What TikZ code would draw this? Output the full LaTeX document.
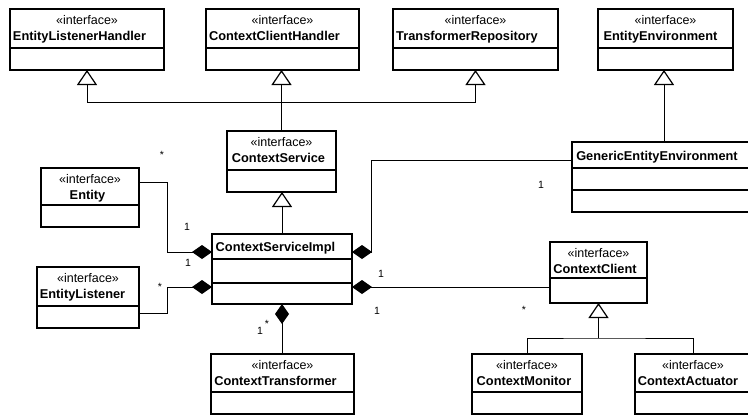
\documentclass[tikz,border=0pt]{standalone}
\usepackage{fontspec}
\setmainfont{Liberation Sans}
\usetikzlibrary{arrows.meta, calc}

\begin{document}
\begin{tikzpicture}[
    x = 1pt, y = -1pt,
    box/.style = {draw, line width=1.2pt, inner sep=0pt, outer sep=0pt,
        anchor=north west},
    sep/.style = {line width=1.2pt},
    stereo/.style = {anchor=base, inner sep=0pt,
        font=\fontsize{12.5}{14}\selectfont},
    cname/.style = {anchor=base, inner sep=0pt,
        font=\fontsize{12.8}{14}\selectfont\bfseries},
    mult/.style = {inner sep=0pt, font=\fontsize{10.5}{12}\selectfont},
    gen/.style = {line width=1pt,
        -{Triangle[open, width=20pt, length=15pt, line width=1.2pt]}},
    comp/.style = {line width=1pt, {Diamond[width=14pt, length=20pt]}-}
  ]
  \useasboundingbox (0,0) rectangle (748,415);
  \clip (0,0) rectangle (748,415);

  % interfaces: name/left/top/width/height/header/name centre/text
  \foreach \n/\l/\t/\w/\h/\hh/\cx/\txt in {
      elh/10/9/154/61/39/69.5/EntityListenerHandler,
      cch/206/9/153/61/39/68.5/ContextClientHandler,
      trp/393/9/165/61/39/74/TransformerRepository,
      een/598/9/135/61/39/62.5/EntityEnvironment,
      cs/227/131/109/61/39/51.5/ContextService,
      ent/41/168/98/59/37/46.5/Entity,
      el/37/267/102/61/39/45.5/EntityListener,
      ct/211/354/143/60/38/64.5/ContextTransformer,
      cc/550/242/97/61/36/45/ContextClient,
      cm/472/354/110/60/38/52/ContextMonitor,
      ca/635/354/116/60/38/53/ContextActuator}
  {
    \node[box, minimum width=\w, minimum height=\h] (\n) at (\l,\t) {};
    \draw[sep] ($(\n.north west)+(0,\hh)$) -- ($(\n.north east)+(0,\hh)$);
    \node[stereo] (\n-st) at ($(\n.north)+(0,15)$) {«interface»};
    \node[cname] (\n-nm) at ($(\n.north west)+(\cx,31)$) {\txt};
  }

  % classes
  \node[box, minimum width=140, minimum height=70] (csi) at (212,234) {};
  \draw[sep] ($(csi.north west)+(0,25)$) -- ($(csi.north east)+(0,25)$);
  \draw[sep] ($(csi.north west)+(0,49)$) -- ($(csi.north east)+(0,49)$);
  \node[cname] (csi-nm) at ($(csi.north west)+(63.5,17)$) {ContextServiceImpl};

  \node[box, minimum width=184, minimum height=70] (gee) at (572,142) {};
  \draw[sep] ($(gee.north west)+(0,26)$) -- ($(gee.north east)+(0,26)$);
  \draw[sep] ($(gee.north west)+(0,48)$) -- ($(gee.north east)+(0,48)$);
  \node[cname] (gee-nm) at ($(gee.north west)+(85,18)$) {GenericEntityEnvironment};

  % generalisations
  \coordinate (j1) at ($(cch.south)+(0,32)$);
  \coordinate (j2) at ($(cc.south)+(0,35)$);
  \draw[gen] (cs.north) -- (cs.north |- cch.south);
  \draw[gen] (j1) -| (elh.south);
  \draw[gen] (j1) -| (trp.south);
  \draw[gen] (csi.north) -- (csi.north |- cs.south);
  \draw[gen] (gee.north) -- (gee.north |- een.south);
  \draw[gen] (j2) -- (cc.south);
  \draw[line width=1pt] (cm.north) |- (j2) -| (ca.north);

  % compositions
  \coordinate (csi-r) at ($(csi.east)+(0,18)$);
  \draw[comp] ($(csi.west)+(0,-17)$) -- ++(-45,0) |- ($(ent.east)+(0,-15.5)$);
  \draw[comp] ($(csi.west)+(0,18)$) -- ++(-45,0) |- ($(el.east)+(0,15.5)$);
  \draw[comp] ($(csi.east)+(0,-17)$) -- ++(19,0) |- ($(gee.west)+(0,-17)$);
  \draw[comp] (csi-r) -- (csi-r -| cc.west);
  \draw[comp] (csi.south) -- (csi.south |- ct.north);

  % multiplicities
  \foreach \p/\s [count=\i] in {{(162,155)}/*, {(187,227)}/1, {(188,263)}/1,
      {(160,287)}/*, {(260,331)}/1, {(267,324)}/*, {(541,185)}/1,
      {(381,274)}/1, {(377,311)}/1, {(524,310)}/*}
    \node[mult] (m\i) at \p {\s};
\end{tikzpicture}
\end{document}
